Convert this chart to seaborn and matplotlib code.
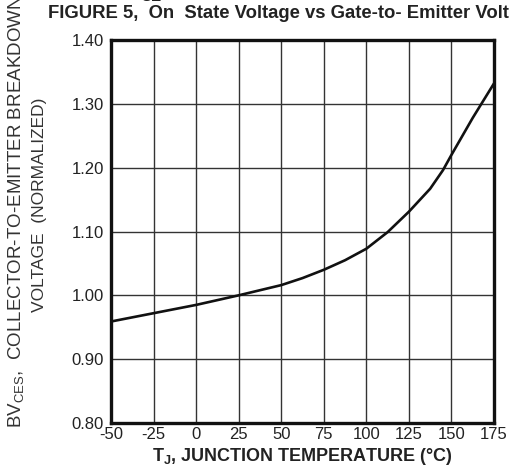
import matplotlib
matplotlib.use("Agg")
import matplotlib.pyplot as plt
import pandas as pd
import seaborn as sns

# values
temp_c = [-50, -25, 0, 25, 50, 62.5, 75, 87.5, 100, 112.5, 125, 137.5, 145, 150, 162.5, 175]
bv_norm = [0.959, 0.972, 0.985, 1.000, 1.016, 1.027, 1.040, 1.055, 1.073, 1.099, 1.131,
           1.167, 1.196, 1.220, 1.278, 1.332]

x_ticks = [-50, -25, 0, 25, 50, 75, 100, 125, 150, 175]
y_ticks = [0.80, 0.90, 1.00, 1.10, 1.20, 1.30, 1.40]

df = pd.DataFrame({"temp": temp_c, "bv": bv_norm})

sns.set_theme(style="white")
plt.rcParams["font.family"] = ["Liberation Sans", "DejaVu Sans"]
plt.rcParams["mathtext.fontset"] = "custom"
plt.rcParams["mathtext.rm"] = "Liberation Sans"
plt.rcParams["mathtext.bf"] = "Liberation Sans:bold"

fig = plt.figure(figsize=(5.09, 4.72), dpi=100)
ax = fig.add_axes([111 / 509, 1 - 423 / 472, 383 / 509, 383 / 472])

sns.lineplot(data=df, x="temp", y="bv", ax=ax, color="#111111", linewidth=1.9)

ax.set_xlim(-50, 175)
ax.set_ylim(0.80, 1.40)
ax.set_xticks(x_ticks)
ax.set_yticks(y_ticks)
ax.set_xticklabels([str(t) for t in x_ticks], fontsize=12, color="#222222")
ax.set_yticklabels([f"{t:.2f}" for t in y_ticks], fontsize=12, color="#222222")
ax.tick_params(axis="x", length=0, pad=3)
ax.tick_params(axis="y", length=0, pad=5)
ax.grid(True, color="#333333", linewidth=1.0)
for s in ax.spines.values():
    s.set_color("#111111")
    s.set_linewidth(2.4)

ax.set_xlabel(r"T$_{\bf J}$, JUNCTION TEMPERATURE (°C)", fontsize=13, fontweight="bold",
              color="#222222", labelpad=3)
ax.set_ylabel("")

fig.text(48 / 509, 1 - 14 / 472, "FIGURE 5,  On  State Voltage vs Gate-to- Emitter Voltage",
         fontsize=13.3, fontweight="bold", color="#222222", ha="left", va="center")
fig.text(140 / 509, 1 + 3 / 472, "CE", fontsize=11, fontweight="bold", color="#222222",
         ha="left", va="center")
fig.text(17 / 509, 1 - 428 / 472, r"BV$_{\rm CES}$,  COLLECTOR-TO-EMITTER BREAKDOWN",
         fontsize=13.5, color="#333333", rotation=90, ha="center", va="bottom")
fig.text(40 / 509, 1 - 205 / 472, "VOLTAGE  (NORMALIZED)",
         fontsize=12.5, color="#333333", rotation=90, ha="center", va="center")

fig.savefig("out.png", dpi=100)
